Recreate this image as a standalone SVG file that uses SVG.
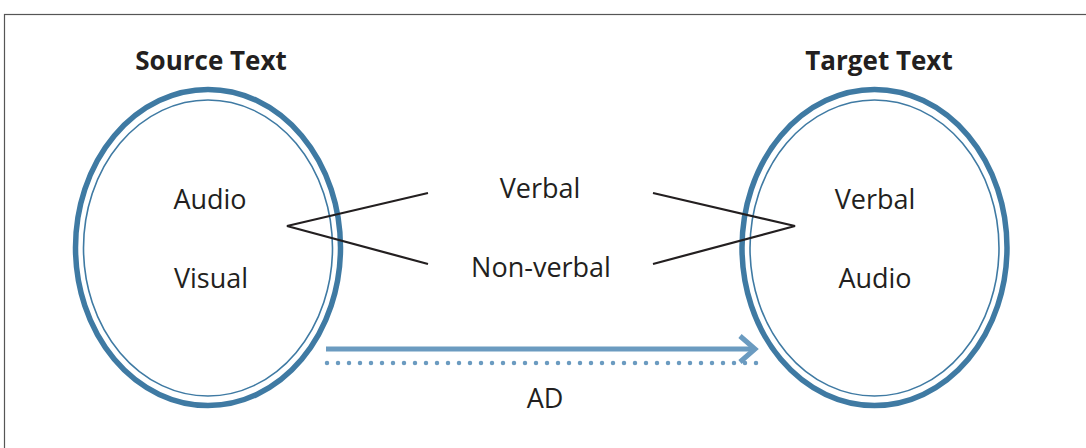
<svg xmlns="http://www.w3.org/2000/svg" width="1086" height="448" viewBox="0 0 1086 448">
<style>
.frame{fill:#fff;stroke:#555;stroke-width:1.2}
.outer{fill:none;stroke:#3f7aa3;stroke-width:5.5}
.inner{fill:none;stroke:#3f7aa3;stroke-width:1.6}
.t{font-family:"Open Sans","Liberation Sans",sans-serif;font-size:27px;fill:#231f20;text-anchor:middle}
.title{font-weight:bold;font-size:26px}
.link{fill:none;stroke:#231f20;stroke-width:2.2}
.ad{fill:none;stroke:#6b9bc0;stroke-width:5}
.dots{fill:none;stroke:#6b9bc0;stroke-width:4.5;stroke-linecap:round;stroke-dasharray:0 11}
</style>
<rect class="frame" x="4.5" y="14.5" width="1090" height="440"/>
<g id="source">
<text class="t title" x="211" y="70">Source Text</text>
<ellipse class="outer" cx="208" cy="247.5" rx="132.5" ry="158"/>
<ellipse class="inner" cx="208" cy="248" rx="124.5" ry="148"/>
<text class="t" x="210" y="209">Audio</text>
<text class="t" x="211" y="288">Visual</text>
</g>
<g id="target">
<text class="t title" x="879" y="70">Target Text</text>
<ellipse class="outer" cx="874.5" cy="247.5" rx="132.5" ry="158"/>
<ellipse class="inner" cx="874.5" cy="248" rx="124.5" ry="148"/>
<text class="t" x="875" y="209">Verbal</text>
<text class="t" x="875" y="288">Audio</text>
</g>
<g id="verbal"><text class="t" x="540" y="198">Verbal</text></g>
<g id="nonverbal"><text class="t" x="541" y="277">Non-verbal</text></g>
<g id="ad-label"><text class="t" x="545" y="408">AD</text></g>
<g id="connectors">
<polyline class="link" points="428,193 287,226 428,264"/>
<polyline class="link" points="653,193 795,226 653,264"/>
<line class="ad" x1="326" y1="349" x2="755" y2="349"/>
<polyline class="ad" points="740,336 755,349 740,362"/>
<line class="dots" x1="327" y1="363" x2="760" y2="363"/>
</g>
</svg>
